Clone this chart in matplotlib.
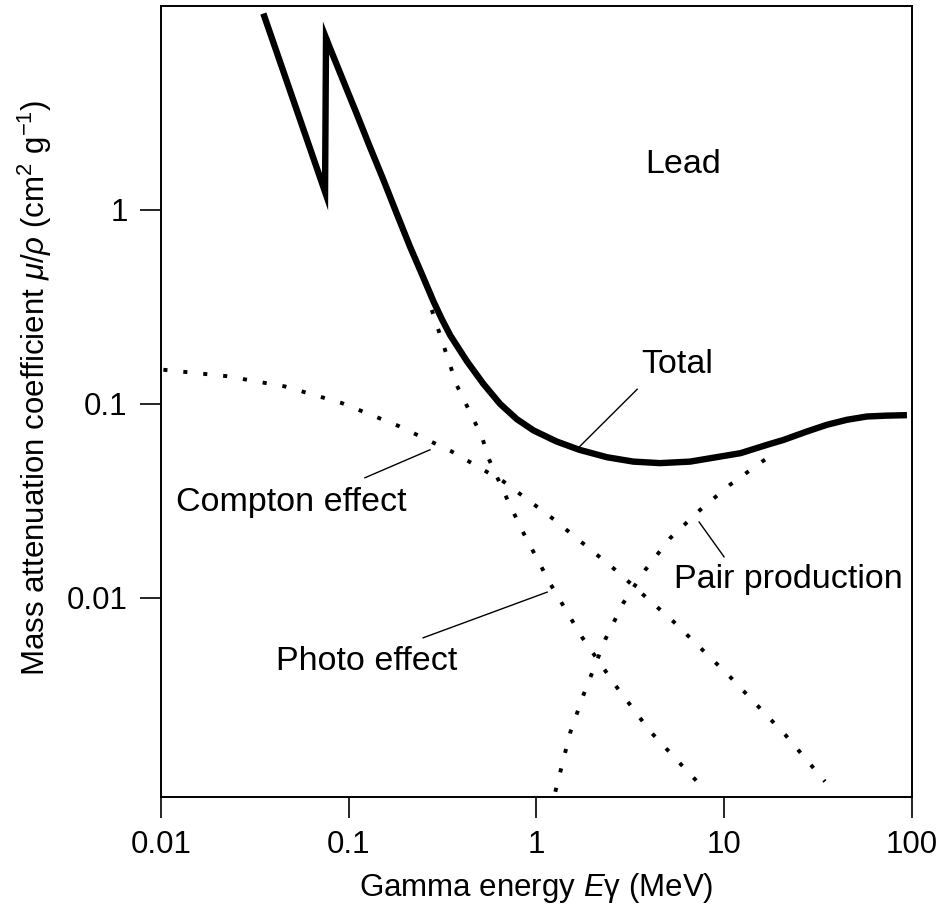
import matplotlib
matplotlib.use("Agg")
import matplotlib.pyplot as plt

plt.rcParams['font.family'] = ['Liberation Sans', 'DejaVu Sans']
plt.rcParams['mathtext.fontset'] = 'custom'
plt.rcParams['mathtext.rm'] = 'Liberation Sans'
plt.rcParams['mathtext.it'] = 'Liberation Sans:italic'

# Mass attenuation coefficient of lead (cm^2/g) vs photon energy (MeV)
total_e = [0.0351, 0.0748, 0.0757, 0.0794, 0.094, 0.110, 0.130, 0.153, 0.180,
           0.212, 0.245, 0.283, 0.313, 0.347, 0.426, 0.521, 0.64, 0.785, 0.964,
           1.28, 1.69, 2.37, 3.28, 4.55, 6.58, 9.51, 12.2, 16.9, 20.7, 27.5,
           35.2, 45.0, 57.5, 73.5, 94.0]
total_mu = [10.3, 1.24, 7.7, 6.85, 4.58, 3.15, 2.1, 1.43, 0.96,
            0.647, 0.468, 0.337, 0.274, 0.226, 0.166, 0.127, 0.100, 0.0835,
            0.0730, 0.064, 0.058, 0.0531, 0.0504, 0.0495, 0.0504, 0.0535,
            0.0557, 0.0615, 0.0652, 0.072, 0.078, 0.0828, 0.0861, 0.0870,
            0.0875]

compton_e = [0.0103, 0.0224, 0.0458, 0.0918, 0.184, 0.354, 0.667, 1.21, 2.57,
             5.36, 10.7, 21.1, 34.4]
compton_mu = [0.150, 0.139, 0.123, 0.101, 0.077, 0.0568, 0.0398, 0.0258, 0.0142,
              0.00755, 0.00393, 0.00197, 0.00113]

photo_e = [0.277, 0.376, 0.512, 0.555, 0.681, 0.836, 1.18, 1.74, 2.62, 4.03,
           5.70, 8.07]
photo_mu = [0.305, 0.125, 0.0679, 0.0525, 0.034, 0.0224, 0.0119, 0.00631,
            0.00356, 0.00205, 0.00143, 0.001]

pair_e = [1.26, 1.51, 1.78, 2.32, 2.90, 3.79, 5.15, 7.44, 10.7, 15.9, 19.1]
pair_mu = [0.001, 0.00201, 0.00316, 0.00608, 0.0094, 0.0139, 0.0203, 0.0284,
           0.0382, 0.0504, 0.0565]

xticks = [0.01, 0.1, 1, 10, 100]
xtick_labels = ['0.01', '0.1', '1', '10', '100']
yticks = [0.01, 0.1, 1]
ytick_labels = ['0.01', '0.1', '1']

fig = plt.figure(figsize=(9.43, 9.10), dpi=100)
ax = fig.add_axes([0.1707, 0.1242, 0.7964, 0.8695])

dots = dict(color='black', lw=2.8, linestyle=(0, (1.05, 4.1)))
ax.plot(compton_e, compton_mu, **dots)
ax.plot(photo_e, photo_mu, **dots)
ax.plot(pair_e, pair_mu, **dots)
ax.plot(total_e, total_mu, color='black', lw=4.6, solid_joinstyle='miter',
        solid_capstyle='butt')

ax.set_xscale('log')
ax.set_yscale('log')
ax.set_xlim(0.01, 100)
ax.set_ylim(0.00094, 11.3)
ax.set_xticks(xticks)
ax.set_xticklabels(xtick_labels)
ax.set_yticks(yticks)
ax.set_yticklabels(ytick_labels)
ax.minorticks_off()
ax.tick_params(direction='out', length=15, width=1.2, labelsize=22.5, pad=9,
               top=False, right=False)
for s in ax.spines.values():
    s.set_linewidth(1.4)

ax.set_xlabel(r'Gamma energy $E$γ (MeV)', fontsize=22.5)
ax.set_ylabel(r'Mass attenuation coefficient $\mu/\rho$ (cm$^2$ g$^{-1}$)',
              fontsize=22.5)
ax.xaxis.set_label_coords(0.5, -0.093)
ax.yaxis.set_label_coords(-0.142, 0.517)

# labels with leader lines
fs = 24.5
ax.text(6.04, 1.71, 'Lead', fontsize=fs, ha='center', va='center')
ax.text(5.61, 0.159, 'Total', fontsize=fs, ha='center', va='center')
ax.plot([1.69, 3.44], [0.060, 0.119], color='black', lw=1.0)
ax.text(0.0493, 0.0309, 'Compton effect', fontsize=fs, ha='center', va='center')
ax.plot([0.122, 0.271], [0.0416, 0.058], color='black', lw=1.0)
ax.text(0.125, 0.00468, 'Photo effect', fontsize=fs, ha='center', va='center')
ax.plot([0.249, 1.14], [0.00622, 0.0107], color='black', lw=1.0)
ax.text(21.9, 0.0124, 'Pair production', fontsize=fs, ha='center', va='center')
ax.plot([7.35, 9.98], [0.0246, 0.01627], color='black', lw=1.0)

fig.savefig('out.png', dpi=100)
